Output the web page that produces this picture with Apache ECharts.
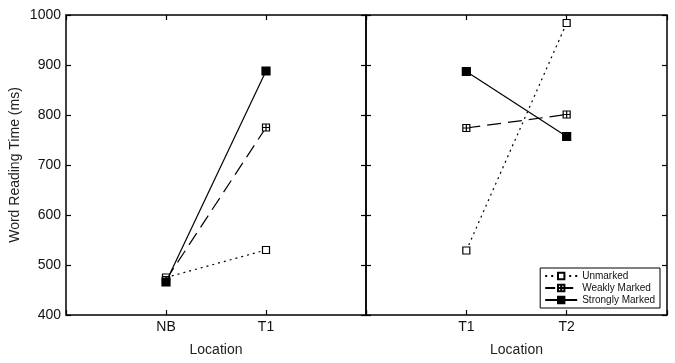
<!DOCTYPE html>
<html>
<head>
<meta charset="utf-8">
<script src="https://cdn.jsdelivr.net/npm/echarts@6/dist/echarts.min.js"></script>
<style>
  html, body { margin: 0; padding: 0; background: #fff; }
  #chart { width: 675px; height: 363px; }
</style>
</head>
<body>
<div id="chart"></div>
<script>
// categories (blank slots pad each panel so points sit at 1/3 and 2/3)
var leftCats = ['', 'NB', 'T1', ''];
var rightCats = ['', 'T1', 'T2', ''];

// word reading time (ms)
var unmarkedLeft = [null, 475, 530, null];
var weaklyLeft = [null, 470, 775, null];
var stronglyLeft = [null, 466, 888, null];

var unmarkedRight = [null, 529, 984, null];
var weaklyRight = [null, 774, 801, null];
var stronglyRight = [null, 887, 757, null];

var FONT = 'Liberation Sans, Arial, sans-serif';
var plusBox = 'path://M0,0H10V10H0Z M5,0V10 M0,5H10';

var myChart = echarts.init(document.getElementById('chart'));

function xAxisFor(idx, cats, pos) {
  return {
    type: 'category',
    gridIndex: idx,
    position: pos,
    data: cats,
    boundaryGap: false,
    name: pos === 'bottom' ? 'Location' : '',
    nameLocation: 'middle',
    nameGap: 28,
    nameTextStyle: { color: '#222', fontSize: 14, fontFamily: FONT },
    axisLine: { show: false },
    axisTick: { show: true, inside: true, length: 5, lineStyle: { color: '#000', width: 1.2 } },
    axisLabel: { show: pos === 'bottom', color: '#111', fontSize: 14, fontFamily: FONT, margin: 5 },
    splitLine: { show: false }
  };
}

function yAxisFor(idx, pos, showLabel) {
  return {
    type: 'value',
    gridIndex: idx,
    position: pos,
    min: 400,
    max: 1000,
    interval: 100,
    name: showLabel ? 'Word Reading Time (ms)' : '',
    nameLocation: 'middle',
    nameGap: 44,
    nameTextStyle: { color: '#222', fontSize: 14, fontFamily: FONT },
    axisLine: { show: false },
    axisTick: { show: true, inside: true, length: 5, lineStyle: { color: '#000', width: 1.2 } },
    axisLabel: {
      show: showLabel, color: '#111', fontSize: 14, fontFamily: FONT, margin: 5,
      formatter: function (v) { return String(v); }
    },
    splitLine: { show: false }
  };
}

function lineSeries(name, data, xi, yi, lineType, symbol, fill, size) {
  return {
    name: name,
    type: 'line',
    xAxisIndex: xi,
    yAxisIndex: yi,
    data: data,
    symbol: symbol,
    symbolSize: size,
    showAllSymbol: true,
    lineStyle: { color: '#000', width: 1.2, type: lineType },
    itemStyle: { color: fill, borderColor: '#000', borderWidth: 1.2 },
    emphasis: { disabled: true },
    animation: false,
    z: name === 'Strongly Marked' ? 4 : 3
  };
}

myChart.setOption({
  backgroundColor: '#fff',
  animation: false,
  grid: [
    { left: 66, top: 15, width: 300, height: 300, show: true, borderColor: '#000', borderWidth: 1.5, backgroundColor: 'transparent' },
    { left: 366, top: 15, width: 301, height: 300, show: true, borderColor: '#000', borderWidth: 1.5, backgroundColor: 'transparent' }
  ],
  legend: {
    right: 15,
    bottom: 55,
    orient: 'vertical',
    itemWidth: 32,
    itemHeight: 8,
    itemGap: 2,
    padding: [3, 5, 3, 4],
    borderColor: '#000',
    borderWidth: 1,
    backgroundColor: '#fff',
    textStyle: { fontSize: 10, fontFamily: FONT, color: '#111' },
    data: [
      { name: 'Unmarked', lineStyle: { type: [2, 4] } },
      { name: 'Weakly Marked', lineStyle: { type: [10, 8] } },
      { name: 'Strongly Marked' }
    ]
  },
  xAxis: [
    xAxisFor(0, leftCats, 'bottom'),
    xAxisFor(0, leftCats, 'top'),
    xAxisFor(1, rightCats, 'bottom'),
    xAxisFor(1, rightCats, 'top')
  ],
  yAxis: [
    yAxisFor(0, 'left', true),
    yAxisFor(0, 'right', false),
    yAxisFor(1, 'left', false),
    yAxisFor(1, 'right', false)
  ],
  series: [
    lineSeries('Unmarked', unmarkedLeft, 0, 0, [2, 4], 'rect', '#fff', 7),
    lineSeries('Weakly Marked', weaklyLeft, 0, 0, [14, 7], plusBox, '#fff', 7),
    lineSeries('Strongly Marked', stronglyLeft, 0, 0, 'solid', 'rect', '#000', 8),
    lineSeries('Unmarked', unmarkedRight, 2, 2, [2, 4], 'rect', '#fff', 7),
    lineSeries('Weakly Marked', weaklyRight, 2, 2, [14, 7], plusBox, '#fff', 7),
    lineSeries('Strongly Marked', stronglyRight, 2, 2, 'solid', 'rect', '#000', 8)
  ]
});
</script>
</body>
</html>
